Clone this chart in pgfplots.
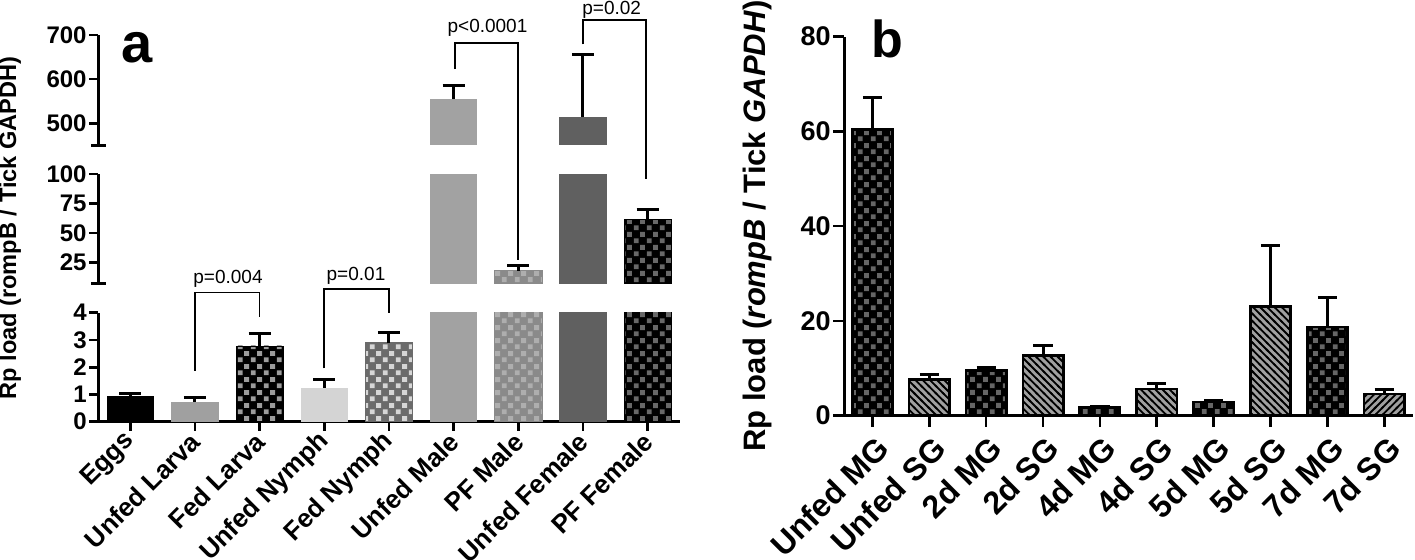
\documentclass[border=0pt]{standalone}
\usepackage{pgfplots}
\pgfplotsset{compat=1.18}
\usepackage{fontspec}
\setmainfont{Liberation Sans}
\usetikzlibrary{patterns}

\pgfdeclarepatternformonly{chk}{\pgfqpoint{0pt}{0pt}}{\pgfqpoint{6.6pt}{6.6pt}}{\pgfqpoint{6.6pt}{6.6pt}}{%
 \pgfpathrectangle{\pgfqpoint{0.4pt}{0.4pt}}{\pgfqpoint{2.6pt}{2.6pt}}%
 \pgfpathrectangle{\pgfqpoint{3.7pt}{3.7pt}}{\pgfqpoint{2.6pt}{2.6pt}}%
 \pgfusepath{fill}}
\pgfdeclarepatternformonly{nwl}{\pgfqpoint{-1pt}{-1pt}}{\pgfqpoint{4.6pt}{4.6pt}}{\pgfqpoint{3.6pt}{3.6pt}}{%
 \pgfsetlinewidth{0.9pt}%
 \pgfpathmoveto{\pgfqpoint{-0.5pt}{4.1pt}}%
 \pgfpathlineto{\pgfqpoint{4.1pt}{-0.5pt}}%
 \pgfusepath{stroke}}
\pgfdeclarepatternformonly{nel}{\pgfqpoint{-1pt}{-1pt}}{\pgfqpoint{4.6pt}{4.6pt}}{\pgfqpoint{3.6pt}{3.6pt}}{%
 \pgfsetlinewidth{0.9pt}%
 \pgfpathmoveto{\pgfqpoint{-0.5pt}{-0.5pt}}%
 \pgfpathlineto{\pgfqpoint{4.1pt}{4.1pt}}%
 \pgfusepath{stroke}}

\definecolor{gLarva}{HTML}{A0A0A0}
\definecolor{gChkA}{HTML}{9C9C9C}
\definecolor{gNymph}{HTML}{D4D4D4}
\definecolor{gFNbg}{HTML}{6B6B6B}
\definecolor{gFNsq}{HTML}{D6D6D6}
\definecolor{gMale}{HTML}{A2A2A2}
\definecolor{gPMbg}{HTML}{8A8A8A}
\definecolor{gPMsq}{HTML}{AEAEAE}
\definecolor{gFem}{HTML}{606060}
\definecolor{gPFsq}{HTML}{686868}
\definecolor{gMG}{HTML}{666666}
\definecolor{gSG}{HTML}{A0A0A0}

\pgfplotsset{
 abar/.style={fill=#1, draw=none},
 achk/.style 2 args={fill=#1, draw=#1, line width=0.4pt, postaction={pattern=chk, pattern color=#2}},
 bmg/.style={fill=black, draw=black, line width=1.3pt, postaction={pattern=chk, pattern color=gMG}},
 bsg/.style={fill=gSG, draw=black, line width=1.3pt, postaction={pattern=#1, pattern color=black}},
 segA/.style={
  scale only axis, width=291pt, xmin=-0.5, xmax=8.5, enlargelimits=false,
  clip marker paths=true,
  every axis plot/.append style={ybar, bar width=0.73, bar shift=0pt},
  axis y line*=left, axis line style={line width=1.5pt},
  tick align=outside, major tick length=4.5pt,
  ytick style={line width=1.3pt, black},
  xtick style={line width=1.3pt, black},
  yticklabel style={font=\bfseries\fontsize{12}{12}\selectfont, inner sep=1pt},
  /pgf/number format/assume math mode=true,
  error bars/y dir=plus, error bars/y explicit,
  error bars/error bar style={line width=1.5pt, black},
  error bars/error mark options={rotate=90, line width=1.5pt, black, mark size=5.5pt},
 },
}

\begin{document}
\begin{tikzpicture}
\useasboundingbox (0,0) rectangle (707.5pt,279.5pt);

% panel a, bottom segment (0 to 4)
\begin{axis}[segA, at={(49pt,68.65pt)}, anchor=south west, height=54.5pt,
  ymin=0, ymax=4, ytick={0,1,2,3,4},
  axis x line*=bottom, xtick={0,...,8},
  xticklabels={Eggs, Unfed Larva, Fed Larva, Unfed Nymph, Fed Nymph, Unfed Male, PF Male, Unfed Female, PF Female},
  xticklabel style={rotate=45, anchor=east, font=\bfseries\fontsize{13}{13}\selectfont, inner sep=1pt, xshift=-1pt, yshift=-2.5pt}]
\addplot[abar=black] coordinates {(0,0.93) +- (0,0.12)};
\addplot[abar=gLarva] coordinates {(1,0.72) +- (0,0.15)};
\addplot[achk={black}{gChkA}] coordinates {(2,2.78) +- (0,0.45)};
\addplot[abar=gNymph] coordinates {(3,1.25) +- (0,0.30)};
\addplot[achk={gFNbg}{gFNsq}] coordinates {(4,2.90) +- (0,0.38)};
\addplot[abar=gMale] coordinates {(5,555) +- (0,30)};
\addplot[achk={gPMbg}{gPMsq}] coordinates {(6,18) +- (0,4.7)};
\addplot[abar=gFem] coordinates {(7,515) +- (0,140)};
\addplot[achk={black}{gPFsq}] coordinates {(8,61.6) +- (0,8.6)};
\end{axis}
% panel a, middle segment (7 to 100)
\begin{axis}[segA, at={(49pt,137.75pt)}, anchor=south west, height=54.75pt,
  ymin=7, ymax=100, ytick={25,50,75,100}, axis x line=none]
\addplot[abar=gMale] coordinates {(5,555) +- (0,30)};
\addplot[achk={gPMbg}{gPMsq}] coordinates {(6,18) +- (0,4.7)};
\addplot[abar=gFem] coordinates {(7,515) +- (0,140)};
\addplot[achk={black}{gPFsq}] coordinates {(8,61.6) +- (0,8.6)};
\end{axis}
% panel a, top segment (450 to 700)
\begin{axis}[segA, at={(49pt,206.8pt)}, anchor=south west, height=55.2pt,
  ymin=450, ymax=700, ytick={500,600,700}, axis x line=none]
\addplot[abar=gMale] coordinates {(5,555) +- (0,30)};
\addplot[abar=gFem] coordinates {(7,515) +- (0,140)};
\end{axis}

% panel b
\begin{axis}[scale only axis, at={(422pt,71.65pt)}, anchor=south west,
  width=284.35pt, height=189.6pt,
  xmin=-0.5, xmax=9.5, ymin=0, ymax=80, enlargelimits=false,
  every axis plot/.append style={ybar, bar width=0.71, bar shift=0pt},
  axis x line*=bottom, axis y line*=left, axis line style={line width=1.5pt},
  tick align=outside, major tick length=5.5pt,
  ytick style={line width=1.3pt, black}, xtick style={line width=1.3pt, black},
  ytick={0,20,40,60,80}, xtick={0,...,9},
  xticklabels={Unfed MG, Unfed SG, 2d MG, 2d SG, 4d MG, 4d SG, 5d MG, 5d SG, 7d MG, 7d SG},
  xticklabel style={rotate=45, anchor=east, font=\bfseries\fontsize{16}{16}\selectfont, inner sep=1pt, xshift=-1pt, yshift=-9.5pt},
  yticklabel style={font=\bfseries\fontsize{13.5}{13.5}\selectfont, inner sep=1pt},
  /pgf/number format/assume math mode=true,
  error bars/y dir=plus, error bars/y explicit,
  error bars/error bar style={line width=1.5pt, black},
  error bars/error mark options={rotate=90, line width=1.5pt, black, mark size=4.8pt},
 ]
\addplot[bmg] coordinates {(0,60.4) +- (0,6.8)};
\addplot[bsg=nwl] coordinates {(1,7.7) +- (0,0.9)};
\addplot[bmg] coordinates {(2,9.6) +- (0,0.5)};
\addplot[bsg=nwl] coordinates {(3,12.7) +- (0,2.2)};
\addplot[bmg] coordinates {(4,1.7) +- (0,0.3)};
\addplot[bsg=nwl] coordinates {(5,5.6) +- (0,1.1)};
\addplot[bmg] coordinates {(6,2.9) +- (0,0.3)};
\addplot[bsg=nwl] coordinates {(7,23.0) +- (0,13.0)};
\addplot[bmg] coordinates {(8,18.7) +- (0,6.3)};
\addplot[bsg=nel] coordinates {(9,4.6) +- (0,1.0)};
\end{axis}

\begin{scope}[x=0.5pt, y=-0.5pt, shift={(0pt,279.5pt)}]
% segment end caps of panel a
\draw[line width=1.5pt] (91,145.4) -- (106,145.4);
\draw[line width=1.5pt] (91,283.5) -- (106,283.5);
% x axis extension to the left of the y axis
\draw[line width=1.5pt] (90,421.7) -- (99,421.7);
\draw[line width=1.5pt] (834,415.7) -- (845,415.7);
% significance brackets
\begin{scope}[line width=0.8pt]
\draw (195,370.7) -- (195,292.3) -- (259.3,292.3) -- (259.3,317.3);
\draw (324,368.3) -- (324,289) -- (389,289) -- (389,313.3);
\draw (455,69) -- (455,42.7) -- (517.7,42.7) -- (517.7,260);
\draw (582.7,44.3) -- (582.7,20) -- (645.7,20) -- (645.7,179);
\end{scope}
\begin{scope}[every node/.style={font=\fontsize{9.5}{10}\selectfont, inner sep=0pt}]
\node at (228,279) {p=0.004};
\node at (356,276) {p=0.01};
\node at (487.5,27.5) {p<0.0001};
\node at (611.7,9.5) {p=0.02};
\end{scope}
% panel letters
\node[anchor=base west, inner sep=0pt, font=\bfseries\fontsize{28}{28}\selectfont] at (121,62) {a};
\node[anchor=base west, inner sep=0pt, font=\bfseries\fontsize{26}{26}\selectfont] at (871,57) {b};
% axis titles
\node[rotate=90, inner sep=0pt, font=\bfseries\fontsize{11.8}{12}\selectfont] at (10,228) {Rp load (rompB / Tick GAPDH)};
\node[rotate=90, inner sep=0pt, font=\bfseries\fontsize{15.5}{15.5}\selectfont] at (757,226) {Rp load (\textit{rompB} / Tick \textit{GAPDH})};
\end{scope}
\end{tikzpicture}
\end{document}
